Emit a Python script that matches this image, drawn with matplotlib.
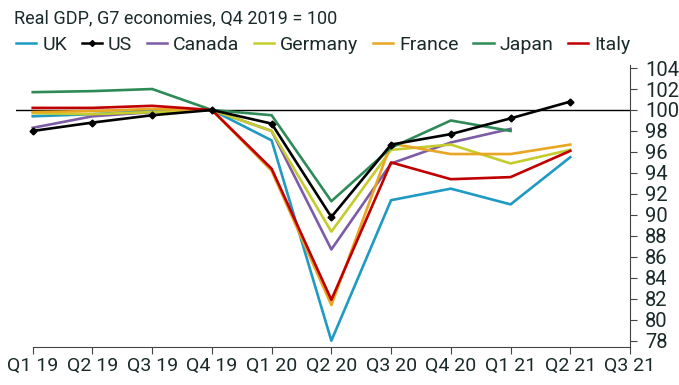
import numpy as np
import matplotlib.pyplot as plt

# Quarter labels and series values (Q4 2019 = 100).
quarters = ['Q1 19', 'Q2 19', 'Q3 19', 'Q4 19', 'Q1 20', 'Q2 20',
            'Q3 20', 'Q4 20', 'Q1 21', 'Q2 21', 'Q3 21']
uk      = [99.4, 99.6, 99.9, 100.0, 97.1, 78.0, 91.4, 92.5, 91.0, 95.5]
us      = [98.0, 98.8, 99.5, 100.0, 98.7, 89.8, 96.7, 97.7, 99.2, 100.8]
canada  = [98.3, 99.4, 99.8, 100.0, 98.0, 86.7, 94.9, 96.9, 98.2]
germany = [99.7, 99.6, 99.8, 100.0, 98.0, 88.4, 96.2, 96.7, 94.9, 96.2]
france  = [99.8, 99.9, 100.1, 100.0, 94.2, 81.4, 96.8, 95.8, 95.8, 96.7]
japan   = [101.7, 101.8, 102.0, 100.0, 99.5, 91.3, 96.4, 99.0, 98.0]
italy   = [100.2, 100.2, 100.4, 100.0, 94.4, 81.9, 95.0, 93.4, 93.6, 96.1]

series = [('UK', uk, '#1f9ac2'), ('US', us, '#000000'), ('Canada', canada, '#7d5ba6'),
          ('Germany', germany, '#c4cc2e'), ('France', france, '#e9a623'),
          ('Japan', japan, '#2e8a57'), ('Italy', italy, '#c00000')]

plt.rcParams['font.family'] = ['Roboto', 'DejaVu Sans']

fig = plt.figure(figsize=(6.79, 3.85), dpi=100)
ax = fig.add_axes([16/679, 1-347/385, (630-16)/679, (347-64.9)/385])

# Reference line at 100.
ax.axhline(100, color='black', lw=1.0, zorder=1)

for name, vals, col in series:
    x = np.arange(len(vals))
    if name == 'US':
        ax.plot(x, vals, color=col, lw=1.9, marker='D', ms=3.5, label=name, zorder=4)
    else:
        ax.plot(x, vals, color=col, lw=1.9, label=name, zorder=3)

ax.set_xlim(-0.28, 10)
ax.set_ylim(77.4, 104.3)
ax.set_xticks(np.arange(len(quarters)))
ax.set_xticklabels(quarters, fontsize=14, color='#1a2a2a')
ax.set_yticks(np.arange(78, 105, 2))
ax.yaxis.tick_right()
ax.tick_params(axis='y', labelsize=14.5, labelcolor='#1a2a2a', length=5, color='#444444', pad=6)
ax.tick_params(axis='x', length=5, color='#444444', pad=2)

for s in ['top', 'left']:
    ax.spines[s].set_visible(False)
ax.spines['right'].set_color('#444444')
ax.spines['bottom'].set_color('#444444')
ax.spines['bottom'].set_bounds(0, 10)

fig.text(14/679, 1-18/385, 'Real GDP, G7 economies, Q4 2019 = 100',
         fontsize=13, color='#1a2a2a', va='center', ha='left')

leg = fig.legend(loc='center left', bbox_to_anchor=(16/679, 1-45/385), ncol=7, frameon=False,
                 fontsize=14, handlelength=1.05, handletextpad=0.3, columnspacing=0.75,
                 borderaxespad=0, borderpad=0, labelcolor='#1a2a2a')
for h in leg.legend_handles:
    h.set_linewidth(1.8)
    h.set_markersize(3)

fig.savefig('out.png', dpi=100)
